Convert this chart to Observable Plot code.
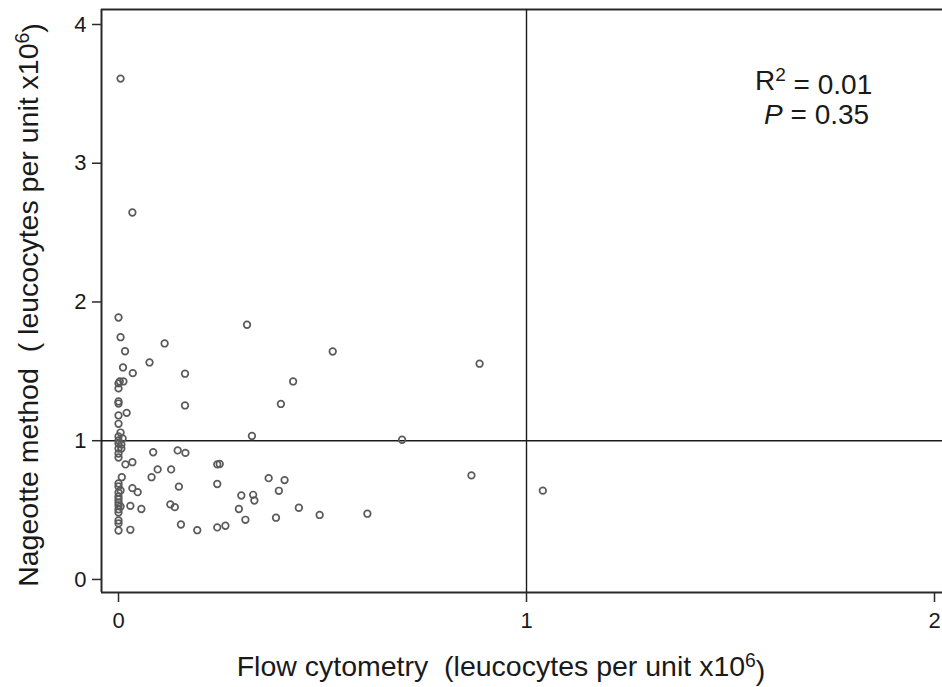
<!DOCTYPE html>
<html><head><meta charset="utf-8">
<script src="https://cdn.jsdelivr.net/npm/d3@7"></script>
<script src="https://cdn.jsdelivr.net/npm/@observablehq/plot@0.6"></script>
<style>
body{margin:0;background:#fff;overflow:hidden}
#chart svg{display:block;font-family:"Liberation Sans",Arial,Helvetica,sans-serif}
</style>
</head><body><div id="chart"></div>
<script>
// Flow cytometry (x) and Nageotte method (y), leucocytes per unit x10^6
const flowX = [
  0.005,0.034,0.000,0.005,0.016,0.011,0.035,0.000,0.003,0.012,
  0.000,0.000,0.000,0.000,0.020,0.000,0.005,0.000,0.010,0.000,
  0.000,0.007,0.000,0.007,0.000,0.000,0.017,0.034,0.008,0.000,
  0.000,0.005,0.000,0.000,0.000,0.000,0.000,0.005,0.000,0.000,
  0.034,0.047,0.029,0.056,0.000,0.000,0.000,0.029,0.076,0.113,
  0.163,0.163,0.315,0.428,0.398,0.327,0.525,0.885,0.695,0.865,
  1.040,0.085,0.145,0.164,0.096,0.129,0.081,0.242,0.248,0.148,
  0.242,0.301,0.330,0.333,0.368,0.407,0.393,0.295,0.311,0.386,
  0.442,0.127,0.138,0.153,0.193,0.242,0.262,0.493,0.610
];
const nageotteY = [
  3.610,2.645,1.888,1.746,1.645,1.528,1.487,1.413,1.427,1.427,
  1.377,1.283,1.268,1.182,1.201,1.122,1.059,1.031,1.016,1.002,
  0.980,0.973,0.944,0.944,0.908,0.879,0.829,0.845,0.737,0.692,
  0.670,0.641,0.627,0.598,0.577,0.555,0.533,0.526,0.505,0.483,
  0.658,0.629,0.530,0.508,0.425,0.404,0.353,0.358,1.564,1.701,
  1.483,1.254,1.836,1.427,1.265,1.034,1.643,1.555,1.007,0.750,
  0.640,0.917,0.930,0.912,0.793,0.793,0.737,0.829,0.832,0.669,
  0.688,0.605,0.610,0.569,0.730,0.716,0.639,0.508,0.430,0.445,
  0.517,0.541,0.521,0.396,0.355,0.375,0.387,0.465,0.474
];
const xTicks = [0, 1, 2];
const yTicks = [0, 1, 2, 3, 4];
const refX = [1];
const refY = [1];
const xDomain = [-0.0417, 2.0196];
const yDomain = [-0.094, 4.108];
const xTitle = ["Flow cytometry  (leucocytes per unit x10", "6", ")"];
const yTitle = ["Nageotte method  ( leucocytes per unit x10", "6", ")"];
const stats = [["R", "2", " = 0.01"], ["P", "", " = 0.35"]];
const statsPos = {x: 1.705, y: 3.59};

const points = flowX.map((x, i) => ({x, y: nageotteY[i]}));
const axisColor = "#2a2a2a";

const plot = Plot.plot({
  width: 942, height: 687,
  marginLeft: 101, marginRight: 0, marginTop: 9, marginBottom: 95,
  x: {domain: xDomain},
  y: {domain: yDomain},
  style: {fontFamily: '"Liberation Sans", Arial, sans-serif', background: "#fff"},
  marks: [
    Plot.ruleX([xDomain[0]], {stroke: axisColor, strokeWidth: 2}),
    Plot.ruleY([yDomain[0]], {stroke: axisColor, strokeWidth: 2}),
    Plot.ruleY([yDomain[1]], {stroke: axisColor, strokeWidth: 2}),
    Plot.ruleX(refX, {stroke: "#1a1a1a", strokeWidth: 1.4}),
    Plot.ruleY(refY, {stroke: "#1a1a1a", strokeWidth: 1.4}),
    Plot.axisX({ticks: xTicks, tickFormat: d => String(d), tickSize: 10, tickPadding: 10,
      fontSize: 22, label: null, stroke: axisColor, strokeWidth: 1.5, fill: "#1a1a1a"}),
    Plot.axisY({ticks: yTicks, tickFormat: d => String(d), tickSize: 9, tickPadding: 6,
      fontSize: 22, label: null, stroke: axisColor, strokeWidth: 1.5, fill: "#1a1a1a"}),
    Plot.dot(points, {x: "x", y: "y", r: 3.3, stroke: "#5a5a5a", strokeWidth: 1.7, fill: "none"})
  ]
});

const svg = d3.select(plot);
const sx = plot.scale("x"), sy = plot.scale("y");

function supText(g, parts, attrs, italicFirst) {
  const t = g.append("text");
  Object.entries(attrs).forEach(([k, v]) => t.attr(k, v));
  const first = t.append("tspan").text(parts[0]);
  if (italicFirst) first.attr("font-style", "italic");
  if (parts[1]) {
    t.append("tspan").attr("dy", "-0.45em").attr("font-size", "0.68em").text(parts[1]);
    t.append("tspan").attr("dy", "0.45em").text(parts[2]);
  } else {
    t.append("tspan").text(parts[2]);
  }
  return t;
}

const g = svg.append("g").attr("fill", "#1a1a1a");
supText(g, xTitle, {x: 501, y: 676, "text-anchor": "middle", "font-size": 28.5});
supText(g, yTitle, {transform: "translate(38,305) rotate(-90)", "text-anchor": "middle", "font-size": 28.5});
const cx = sx.apply(statsPos.x), cy = sy.apply(statsPos.y);
supText(g, stats[0], {x: cx, y: cy + 9, "text-anchor": "middle", "font-size": 28});
supText(g, stats[1], {x: cx + 3, y: cy + 43, "text-anchor": "middle", "font-size": 28}, true);

document.getElementById("chart").appendChild(plot);
</script>
</body></html>
